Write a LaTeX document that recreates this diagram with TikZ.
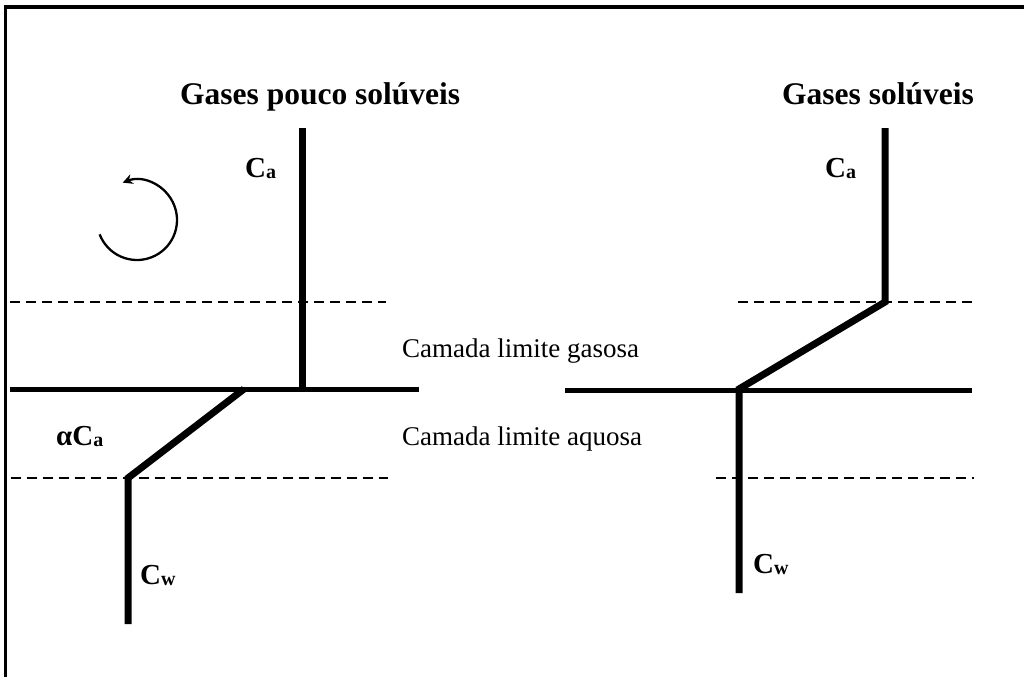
\documentclass[tikz,border=0pt]{standalone}
\usepackage{fontspec}
\setmainfont{Liberation Serif}
\usetikzlibrary{arrows.meta}
\begin{document}
\begin{tikzpicture}[x=1pt,y=1pt,
  profile/.style={line width=7pt},
  iface/.style={line width=5pt},
  dashline/.style={line width=2.5pt, dash pattern=on 10pt off 6pt},
  titletext/.style={inner sep=0pt, font=\bfseries\fontsize{31.5}{36}\selectfont},
  layertext/.style={inner sep=0pt, font=\fontsize{27}{32}\selectfont},
  conctext/.style={inner sep=0pt, font=\bfseries\fontsize{29}{32}\selectfont},
]
\useasboundingbox (0,0) rectangle (1024,-677);
\newcommand{\subsc}[1]{{\fontsize{20}{22}\selectfont\raisebox{-1pt}{#1}}}
% frame
\draw[line width=2.5pt] (5.5,-677) -- (5.5,-7);
\draw[line width=4pt] (4.3,-7) -- (1024,-7);
% titles
\node[titletext, anchor=base west] (t1) at (180,-104) {Gases pouco solúveis};
\node[titletext, anchor=base west] (t2) at (782,-104) {Gases solúveis};
% layer labels
\node[layertext, anchor=base west] (lg) at (402,-357) {Camada limite gasosa};
\node[layertext, anchor=base west] (la) at (402,-445) {Camada limite aquosa};
% concentration labels
\node[conctext, anchor=base west] (ca1) at (245,-177) {C\subsc{a}};
\node[conctext, anchor=base west] (ca2) at (825,-177) {C\subsc{a}};
\node[conctext, anchor=base west] (aca) at (56,-445) {αC\subsc{a}};
\node[conctext, anchor=base west] (cw1) at (140,-584) {C\subsc{w}};
\node[conctext, anchor=base west] (cw2) at (753,-573) {C\subsc{w}};
% rotation arrow
\coordinate (rc) at (137,-220);
\draw[line width=2.3pt, -{Stealth[length=10pt,width=10pt]}] (rc) ++(201:40) arc[start angle=201, end angle=471, radius=40];
% left panel
\coordinate (L1) at (302,-128);
\coordinate (L2) at (302,-389);
\coordinate (L3) at (244,-389);
\coordinate (L4) at (128,-478);
\coordinate (L5) at (128,-624);
\draw[dashline] (10,-302) -- (386,-302);
\draw[dashline] (11,-478) -- (388,-478);
\draw[iface] (10,-389) -- (419,-389);
\draw[profile] (L1) -- (L2);
\draw[profile, line join=miter] (L3) -- (L4) -- (L5);
% right panel
\coordinate (R1) at (885,-128);
\coordinate (R2) at (885,-302);
\coordinate (R3) at (739,-389);
\coordinate (R4) at (739,-593);
\draw[dashline] (738,-302) -- (974,-302);
\draw[dashline] (716,-478) -- (974,-478);
\draw[iface] (565,-390) -- (972,-390);
\draw[profile, line join=miter] (R1) -- (R2) -- (R3) -- (R4);
\end{tikzpicture}
\end{document}
